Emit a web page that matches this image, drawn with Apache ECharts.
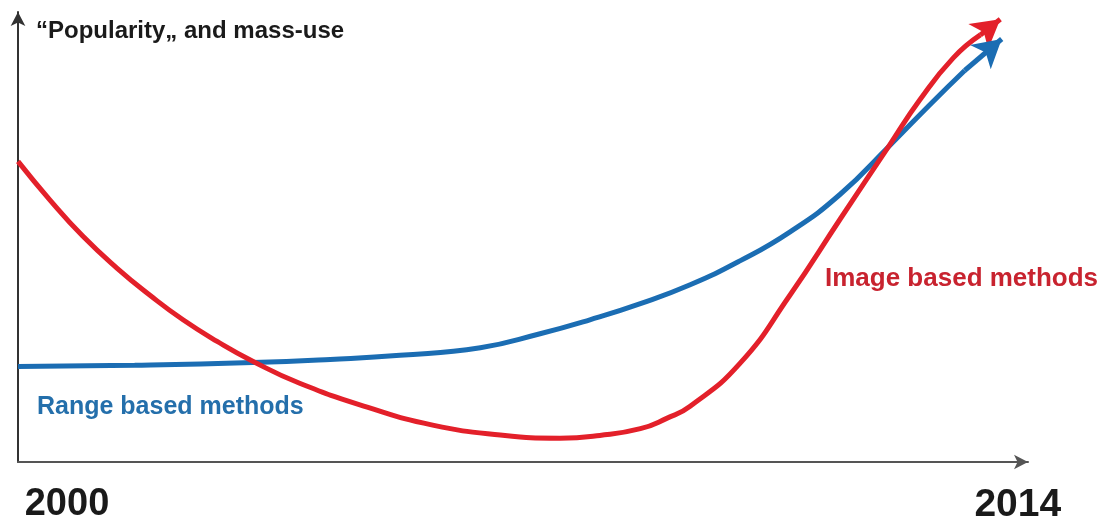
<!DOCTYPE html>
<html>
<head>
<meta charset="utf-8">
<script src="https://cdn.jsdelivr.net/npm/echarts@6/dist/echarts.min.js"></script>
<style>
html,body{margin:0;padding:0;background:#fff;}
#chart{width:1109px;height:526px;}
</style>
</head>
<body>
<div id="chart"></div>
<script>
// Tick labels and titles
const xTickValues = [2000, 2014];
const yTitle = '\u201CPopularity\u201E and mass-use';
const seriesNames = ['Image based methods', 'Range based methods'];

// Image based methods (red); last point = arrow tip
const imageYears = [2000.00, 2000.45, 2000.91, 2001.39, 2001.86, 2002.32, 2002.80, 2003.30, 2003.96, 2004.91, 2005.83, 2006.78, 2007.62, 2008.18, 2008.75, 2009.12, 2009.45, 2010.15, 2010.85, 2011.56, 2012.26, 2012.68, 2013.15, 2013.53, 2013.81];
const imageValues = [66.8, 58.2, 50.2, 43.1, 37.0, 31.6, 26.8, 22.4, 17.5, 12.2, 8.2, 6.0, 5.3, 5.9, 7.4, 9.7, 12.4, 21.9, 37.0, 54.0, 70.6, 80.5, 89.8, 94.9, 98.4];

// Range based methods (blue); last point = arrow tip
const rangeYears = [2000.00, 2001.64, 2003.30, 2004.39, 2005.37, 2006.50, 2007.34, 2008.04, 2008.75, 2009.45, 2010.15, 2010.85, 2011.56, 2012.26, 2012.82, 2013.31, 2013.83];
const rangeValues = [21.2, 21.5, 22.1, 22.8, 23.7, 25.4, 28.5, 31.6, 35.2, 39.4, 44.7, 51.1, 59.5, 70.4, 79.4, 87.0, 94.0];

const RED = '#e3202a';
const BLUE = '#1b6db3';

function pairs(xs, ys) { return xs.map((x, i) => [x, ys[i]]); }
const imageData = pairs(imageYears, imageValues);
const rangeData = pairs(rangeYears, rangeValues);

function arrowMark(data, color) {
  const n = data.length;
  return {
    silent: true,
    animation: false,
    symbol: ['none', 'arrow'],
    symbolSize: [24, 28],
    label: {show: false},
    lineStyle: {color: color, width: 5, type: 'solid'},
    itemStyle: {color: color},
    data: [[{coord: data[n - 2]}, {coord: data[n - 1]}]]
  };
}

const FONT = 'Liberation Sans, Arial, sans-serif';
const chart = echarts.init(document.getElementById('chart'), null, {renderer: 'canvas'});
chart.setOption({
  animation: false,
  backgroundColor: '#fff',
  grid: {left: 18, right: 81, top: 12, bottom: 64},
  title: {
    text: yTitle,
    left: 31, top: 14,
    textStyle: {fontFamily: FONT, fontWeight: 'bold', fontSize: 24, color: '#1a1a1a'}
  },
  xAxis: {
    type: 'value', min: 2000, max: 2014.2,
    splitLine: {show: false},
    axisTick: {show: false},
    axisLine: {show: true, onZero: false, symbol: ['none', 'arrow'], symbolSize: [11, 14], lineStyle: {color: '#555', width: 2}},
    axisLabel: {
      customValues: xTickValues,
      margin: 24,
      formatter: function (v) { return v === xTickValues[0] ? '{a|' + v + '}' : '{b|' + v + '}'; },
      rich: {
        a: {fontFamily: FONT, fontWeight: 'bold', fontSize: 38, color: '#1a1a1a', padding: [0, 0, 0, 98]},
        b: {fontFamily: FONT, fontWeight: 'bold', fontSize: 39, color: '#1a1a1a', padding: [0, 0, 0, 8]}
      }
    }
  },
  yAxis: {
    type: 'value', min: 0, max: 100,
    splitLine: {show: false},
    axisTick: {show: false},
    axisLabel: {show: false},
    axisLine: {show: true, onZero: false, symbol: ['none', 'arrow'], symbolSize: [11, 14], lineStyle: {color: '#333', width: 2}}
  },
  series: [
    {
      name: seriesNames[0], type: 'line', data: imageData.slice(0, -1), smooth: 0.5,
      showSymbol: false, lineStyle: {color: RED, width: 5}, z: 3,
      markLine: arrowMark(imageData, RED)
    },
    {
      name: seriesNames[1], type: 'line', data: rangeData.slice(0, -1), smooth: 0.5,
      showSymbol: false, lineStyle: {color: BLUE, width: 5}, z: 2,
      markLine: arrowMark(rangeData, BLUE)
    }
  ],
  graphic: [
    {type: 'text', left: 825, top: 266, style: {text: seriesNames[0], fill: '#c8232f', font: 'bold 26px "Liberation Sans", Arial, sans-serif'}},
    {type: 'text', left: 37, top: 395, style: {text: seriesNames[1], fill: '#246fab', font: 'bold 25px "Liberation Sans", Arial, sans-serif'}}
  ]
});
</script>
</body>
</html>
